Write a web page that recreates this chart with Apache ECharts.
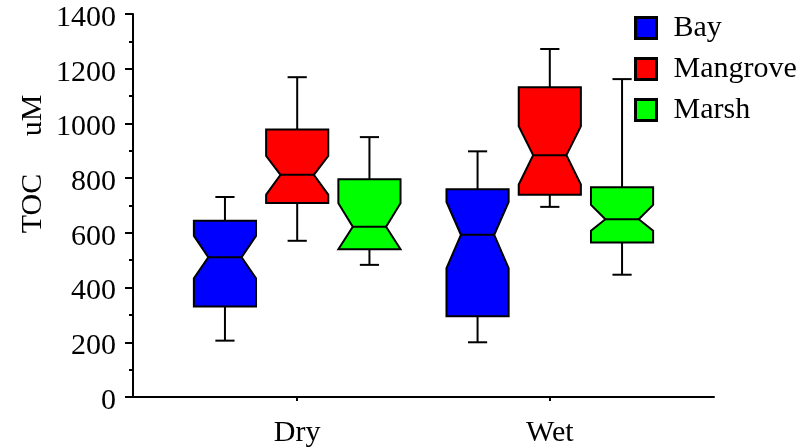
<!DOCTYPE html>
<html>
<head>
<meta charset="utf-8">
<title>TOC by season and habitat</title>
<script src="https://cdn.jsdelivr.net/npm/echarts@6/dist/echarts.min.js"></script>
<style>
  html, body { margin: 0; padding: 0; background: #fff; }
  #chart { width: 805px; height: 448px; }
</style>
</head>
<body>
<div id="chart"></div>
<script>
// Seasons on the x axis (placed at x = 1, 2)
const categories = ['Dry', 'Wet'];

// Habitat series
const seriesNames = ['Bay', 'Mangrove', 'Marsh'];
const seriesColors = ['#0000ff', '#ff0000', '#00ff00'];

// Per season: [min, Q1, notch low, median, notch high, Q3, max]  (TOC, uM)
const bayStats = [
  [206, 331, 434, 511, 589, 644, 731],
  [200, 295, 471, 593, 713, 759, 898]
];
const mangroveStats = [
  [571, 709, 740, 812, 881, 978, 1169],
  [695, 739, 777, 884, 990, 1132, 1272]
];
const marshStats = [
  [483, 540, 540, 622, 708, 796, 950],
  [447, 565, 608, 650, 702, 767, 1162]
];

// Y axis ticks
const yTicks = [0, 200, 400, 600, 800, 1000, 1200, 1400];

const allStats = [bayStats, mangroveStats, marshStats];

// Geometry in x-axis units
const groupOffset = 0.286;   // distance between neighbouring boxes
const boxHalf = 0.123;       // half box width
const notchHalf = 0.066;     // half width at the notch waist
const capHalf = 0.038;       // half whisker-cap width

function makeRenderItem(seriesIdx) {
  const off = (seriesIdx - 1) * groupOffset;
  return function (params, api) {
    const x = api.value(0) + off;
    const mn = api.value(1), q1 = api.value(2), nl = api.value(3),
          md = api.value(4), nh = api.value(5), q3 = api.value(6), mx = api.value(7);
    const L = x - boxHalf, R = x + boxHalf, Li = x - notchHalf, Ri = x + notchHalf;
    const p = (a, b) => api.coord([a, b]);
    const poly = [
      p(L, q3), p(R, q3), p(R, nh), p(Ri, md), p(R, nl), p(R, q1),
      p(L, q1), p(L, nl), p(Li, md), p(L, nh)
    ];
    const lineStyle = { stroke: '#000', lineWidth: 2, fill: null };
    return {
      type: 'group',
      children: [
        { type: 'line', shape: { x1: p(x, q3)[0], y1: p(x, q3)[1], x2: p(x, mx)[0], y2: p(x, mx)[1] }, style: lineStyle },
        { type: 'line', shape: { x1: p(x - capHalf, mx)[0], y1: p(x, mx)[1], x2: p(x + capHalf, mx)[0], y2: p(x, mx)[1] }, style: lineStyle },
        { type: 'line', shape: { x1: p(x, q1)[0], y1: p(x, q1)[1], x2: p(x, mn)[0], y2: p(x, mn)[1] }, style: lineStyle },
        { type: 'line', shape: { x1: p(x - capHalf, mn)[0], y1: p(x, mn)[1], x2: p(x + capHalf, mn)[0], y2: p(x, mn)[1] }, style: lineStyle },
        { type: 'polygon', shape: { points: poly }, style: { fill: seriesColors[seriesIdx], stroke: '#000', lineWidth: 2, lineJoin: 'miter' } },
        { type: 'line', shape: { x1: p(Li, md)[0], y1: p(Li, md)[1], x2: p(Ri, md)[0], y2: p(Ri, md)[1] }, style: lineStyle }
      ]
    };
  };
}

const font = 'Liberation Serif';

const chart = echarts.init(document.getElementById('chart'), null, { renderer: 'canvas' });

chart.setOption({
  animation: false,
  backgroundColor: '#fff',
  grid: { left: 133, right: 91, top: 14, bottom: 50, containLabel: false },
  legend: {
    orient: 'vertical',
    left: 629,
    top: 8,
    itemWidth: 21,
    itemHeight: 21,
    itemGap: 11,
    icon: 'rect',
    textStyle: { fontFamily: font, fontSize: 30, color: '#000', padding: [0, 0, 0, 12] },
    data: seriesNames.map((n, i) => ({
      name: n,
      itemStyle: { color: seriesColors[i], borderColor: '#000', borderWidth: 3 }
    }))
  },
  graphic: [{
    type: 'text',
    x: 33,
    y: 164,
    rotation: Math.PI / 2,
    style: {
      text: 'TOC     uM',
      fontFamily: font,
      fontSize: 30,
      fill: '#000',
      align: 'center',
      verticalAlign: 'middle'
    }
  }],
  xAxis: {
    type: 'value',
    min: 0.35,
    max: 2.65,
    splitLine: { show: false },
    axisLine: { show: true, onZero: false, lineStyle: { color: '#000', width: 2 } },
    axisTick: { show: true, customValues: [1, 2], length: 4, lineStyle: { color: '#000', width: 2 } },
    axisLabel: {
      customValues: [1, 2],
      formatter: v => categories[Math.round(v) - 1],
      fontFamily: font, fontSize: 30, color: '#000', margin: 21
    }
  },
  yAxis: {
    type: 'value',
    min: yTicks[0],
    max: yTicks[yTicks.length - 1],
    interval: 200,
    splitLine: { show: false },
    axisLine: { show: true, lineStyle: { color: '#000', width: 2 } },
    axisTick: { show: true, length: 8, lineStyle: { color: '#000', width: 2 } },
    minorTick: { show: true, splitNumber: 2, length: 4, lineStyle: { color: '#000', width: 2 } },
    axisLabel: {
      formatter: v => String(v),
      fontFamily: font, fontSize: 30, color: '#000', margin: 17,
      verticalAlign: 'top',
      lineHeight: 8
    }
  },
  series: allStats.map((stats, i) => ({
    name: seriesNames[i],
    type: 'custom',
    itemStyle: { color: seriesColors[i] },
    renderItem: makeRenderItem(i),
    encode: { x: 0, y: [1, 2, 3, 4, 5, 6, 7] },
    data: stats.map((s, k) => [k + 1].concat(s))
  }))
});
</script>
</body>
</html>
